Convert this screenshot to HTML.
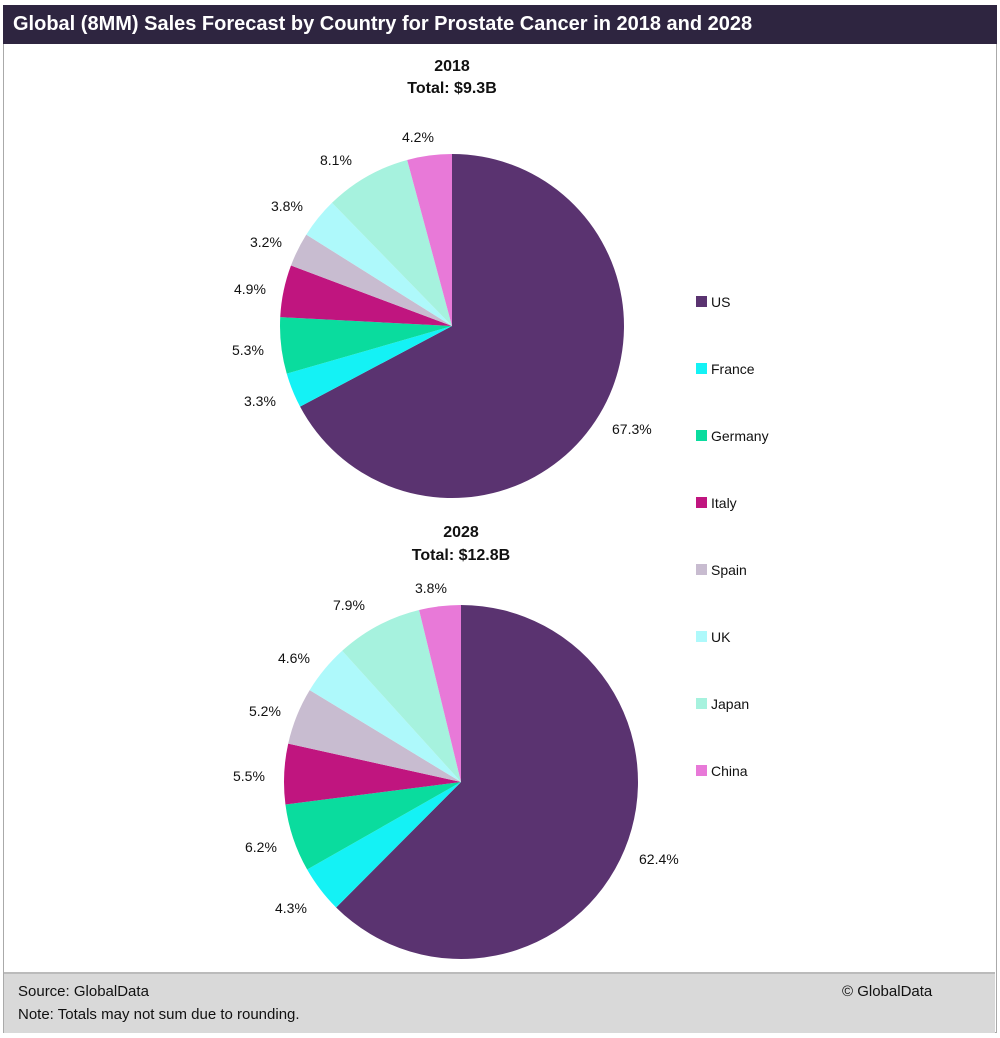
<!DOCTYPE html><html><head><style>
body{margin:0;width:1000px;height:1038px;background:#fff;font-family:"Liberation Sans",sans-serif;position:relative;overflow:hidden}
.t{position:absolute;left:3px;top:5px;width:994px;height:39px;background:#2e2540;color:#fff;font-size:20px;font-weight:bold;line-height:39px;box-sizing:border-box;padding-left:10px}
.frame{position:absolute;left:3px;top:44px;width:992px;height:988px;border:1px solid #aaa;border-top:none}
.f{position:absolute;left:4px;top:972px;width:991px;height:59px;background:#d9d9d9;border-top:2px solid #bbb;font-size:15px;color:#111}
svg{position:absolute;left:0;top:0}
</style></head><body>
<div class="t">Global (8MM) Sales Forecast by Country for Prostate Cancer in 2018 and 2028</div>
<div class="frame"></div>
<div class="f"><div style="position:absolute;left:14px;top:9px">Source: GlobalData</div><div style="position:absolute;left:14px;top:32px">Note: Totals may not sum due to rounding.</div><div style="position:absolute;left:838px;top:9px">© GlobalData</div></div>
<svg id="s" width="1000" height="970" font-family="Liberation Sans, sans-serif" font-size="14" fill="#111">
<text x="452" y="71" text-anchor="middle" font-weight="bold" font-size="16">2018</text>
<text x="452" y="93" text-anchor="middle" font-weight="bold" font-size="16">Total: $9.3B</text>
<text x="461" y="537" text-anchor="middle" font-weight="bold" font-size="16">2028</text>
<text x="461" y="560" text-anchor="middle" font-weight="bold" font-size="16">Total: $12.8B</text>
<g id="p"></g>
<text x="612" y="434">67.3%</text><text x="244" y="406">3.3%</text><text x="232" y="355">5.3%</text><text x="234" y="294">4.9%</text><text x="250" y="247">3.2%</text><text x="271" y="211">3.8%</text><text x="320" y="165">8.1%</text><text x="402" y="142">4.2%</text>
<text x="639" y="864">62.4%</text><text x="275" y="913">4.3%</text><text x="245" y="852">6.2%</text><text x="233" y="781">5.5%</text><text x="249" y="716">5.2%</text><text x="278" y="663">4.6%</text><text x="333" y="610">7.9%</text><text x="415" y="593">3.8%</text>
<g id="lg"></g>
</svg>
<script>
var C=["#5a3370","#14f2f5","#0adc9e","#c0157f","#c8bcd0","#aef9fb","#a6f2de","#e879d8"];
var N=["US","France","Germany","Italy","Spain","UK","Japan","China"];
function pie(cx,cy,r,v){var s=v.reduce((a,b)=>a+b,0),a=0,h="";v.forEach(function(x,i){var b=a+x/s*2*Math.PI;
var x1=cx+r*Math.sin(a),y1=cy-r*Math.cos(a),x2=cx+r*Math.sin(b),y2=cy-r*Math.cos(b);
h+='<path d="M'+cx+' '+cy+'L'+x1+' '+y1+'A'+r+' '+r+' 0 '+((b-a)>Math.PI?1:0)+' 1 '+x2+' '+y2+'Z" fill="'+C[i]+'"/>';a=b;});return h;}
document.getElementById("p").innerHTML=pie(452,326,172,[67.3,3.3,5.3,4.9,3.2,3.8,8.1,4.2])+pie(461,782,177,[62.4,4.3,6.2,5.5,5.2,4.6,7.9,3.8]);
var l="";N.forEach(function(n,i){var y=302+i*67;l+='<rect x="696" y="'+(y-6)+'" width="11" height="11" fill="'+C[i]+'"/><text x="711" y="'+(y+5)+'">'+n+'</text>';});
document.getElementById("lg").innerHTML=l;
</script>
</body></html>
